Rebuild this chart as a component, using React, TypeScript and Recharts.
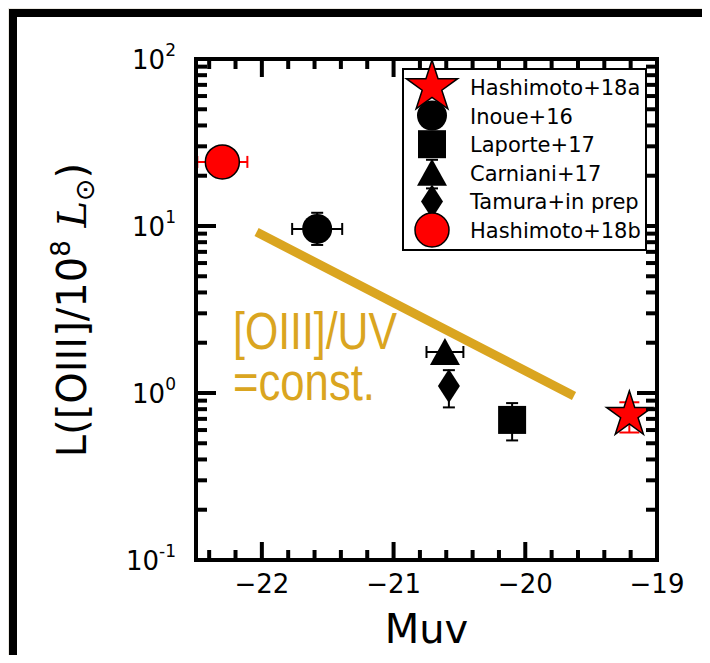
import React from "react";
import { ErrorBar, Scatter, ScatterChart, XAxis, YAxis } from "recharts";

const W = 710;
const H = 663;
const PL = 196;
const PR = 657;
const PT = 59;
const PB = 560;
const GOLD = "#DAA520";
const RED = "#ff0000";
const FONT = "'DejaVu Sans', sans-serif";

// axes
const xMajor = [-22, -21, -20, -19];
const xMinor = [
  -22.4, -22.2, -21.8, -21.6, -21.4, -21.2, -20.8, -20.6, -20.4, -20.2, -19.8,
  -19.6, -19.4, -19.2
];
const yMajor = [0.1, 1, 10, 100];
const yExp = ["-1", "0", "1", "2"];
const yMinor = [
  0.2, 0.3, 0.4, 0.5, 0.6, 0.7, 0.8, 0.9, 2, 3, 4, 5, 6, 7, 8, 9, 20, 30, 40,
  50, 60, 70, 80, 90
];

// measurements (Muv, L[OIII] / 1e8 Lsun)
const hash18aMuv = [-19.21];
const hash18aL = [0.74];
const hash18aLErr = [[0.16, 0.14]];

const inoueMuv = [-21.58];
const inoueL = [9.6];
const inoueMuvErr = [0.19];
const inoueLErr = [[1.9, 2.4]];

const laporteMuv = [-20.1];
const laporteL = [0.69];
const laporteLErr = [[0.17, 0.18]];

const carnianiMuv = [-20.61];
const carnianiL = [1.76];
const carnianiMuvErr = [0.14];

const tamuraMuv = [-20.58];
const tamuraL = [1.1];
const tamuraLErr = [[0.28, 0.27]];

const hash18bMuv = [-22.3];
const hash18bL = [24.2];
const hash18bMuvErr = [0.19];

// [OIII]/UV = const. line
const constMuv = [-22.04, -19.63];
const constL = [9.2, 0.96];

const legendLabels = [
  "Hashimoto+18a",
  "Inoue+16",
  "Laporte+17",
  "Carniani+17",
  "Tamura+in prep",
  "Hashimoto+18b"
];

function starPath(cx: number, cy: number, R: number) {
  const r = R * 0.382;
  let d = "";
  for (let i = 0; i < 10; i++) {
    const a = -Math.PI / 2 + (i * Math.PI) / 5;
    const rr = i % 2 === 0 ? R : r;
    d += (i === 0 ? "M" : "L") + (cx + rr * Math.cos(a)) + "," + (cy + rr * Math.sin(a));
  }
  return d + "Z";
}

type Kind = "star" | "circle" | "square" | "triangle" | "diamond" | "redcircle";

function Marker({ kind, cx, cy, big }: { kind: Kind; cx: number; cy: number; big?: boolean }) {
  if (kind === "star")
    return <path d={starPath(cx, cy, big ? 27 : 24)} fill={RED} stroke="#000" strokeWidth={1.5} />;
  if (kind === "circle") return <circle cx={cx} cy={cy} r={15} fill="#000" />;
  if (kind === "redcircle")
    return <circle cx={cx} cy={cy} r={17} fill={RED} stroke="#000" strokeWidth={1.5} />;
  if (kind === "square") return <rect x={cx - 14} y={cy - 14} width={28} height={28} fill="#000" />;
  if (kind === "triangle")
    return <path d={`M${cx},${cy - 14} L${cx + 15},${cy + 13} L${cx - 15},${cy + 13} Z`} fill="#000" />;
  return (
    <path d={`M${cx},${cy - 17} L${cx + 11},${cy} L${cx},${cy + 17} L${cx - 11},${cy} Z`} fill="#000" />
  );
}

const shapeOf = (kind: Kind) => (p: any) =>
  p.cx == null ? <g /> : <Marker kind={kind} cx={p.cx} cy={p.cy} />;

function XTick(props: any) {
  const { x, payload, side } = props;
  const v = payload.value;
  const major = xMajor.includes(v);
  const len = major ? 18 : 10;
  if (side === "top")
    return <line x1={x} x2={x} y1={PT} y2={PT + len} stroke="#000" strokeWidth={4} />;
  return (
    <g>
      <line x1={x} x2={x} y1={PB} y2={PB - len} stroke="#000" strokeWidth={4} />
      {major && (
        <text x={x} y={PB + 33} textAnchor="middle" fontSize={26} fontFamily={FONT} fill="#000">
          {"\u2212" + Math.abs(v)}
        </text>
      )}
    </g>
  );
}

function YTick(props: any) {
  const { y, payload, side } = props;
  const v = payload.value;
  const idx = yMajor.indexOf(v);
  const len = idx >= 0 ? 20 : 11;
  if (side === "right")
    return <line x1={PR} x2={PR - len} y1={y} y2={y} stroke="#000" strokeWidth={4} />;
  return (
    <g>
      <line x1={PL} x2={PL + len} y1={y} y2={y} stroke="#000" strokeWidth={4} />
      {idx >= 0 && (
        <text x={176} y={y + 10} textAnchor="end" fontSize={26} fontFamily={FONT} fill="#000">
          10
          <tspan dy={-13} fontSize={17}>
            {yExp[idx]}
          </tspan>
        </text>
      )}
    </g>
  );
}

function XTitle(props: any) {
  const vb = props.viewBox || {};
  const cx = (vb.x ?? PL) + (vb.width ?? PR - PL) / 2;
  return (
    <text x={cx} y={643} textAnchor="middle" fontSize={40} fontFamily={FONT} fill="#000">
      Muv
    </text>
  );
}

function YTitle() {
  return (
    <text
      x={86}
      y={310}
      transform="rotate(-90 86 310)"
      textAnchor="middle"
      fontSize={40}
      fontFamily={FONT}
      fill="#000"
    >
      L([OIII]/10
      <tspan dy={-16} fontSize={26}>
        8
      </tspan>
      <tspan dy={16}> </tspan>
      <tspan fontFamily="'DejaVu Serif', serif" fontStyle="italic">
        L
      </tspan>
      <tspan dy={8} fontSize={27}>
        {"\u2299"}
      </tspan>
      <tspan dy={-8}>)</tspan>
    </text>
  );
}

const pts = (muv: number[], l: number[], muvErr?: number[], lErr?: number[][]) =>
  muv.map((x, i) => ({ x, y: l[i], xe: muvErr ? muvErr[i] : 0, ye: lErr ? lErr[i] : [0, 0] }));

export default function App() {
  const axisLine = { stroke: "#000", strokeWidth: 4, strokeLinecap: "square" as const };
  const legendRows: Kind[] = ["star", "circle", "square", "triangle", "diamond", "redcircle"];
  const goldFont = "'Liberation Sans', Arial, sans-serif";

  return (
    <div style={{ position: "relative", width: W, height: H, margin: -8, background: "#ebe8e1", overflow: "hidden" }}>
      <div
        style={{
          position: "absolute",
          left: 9,
          top: 9,
          width: 700,
          height: 654,
          boxSizing: "border-box",
          background: "#fff",
          borderTop: "8px solid #000",
          borderLeft: "8px solid #000",
          borderBottom: "3px solid #000",
          borderRight: "2px solid #8a8a8a"
        }}
      />
      <div style={{ position: "absolute", left: 0, top: 0 }}>
        <ScatterChart
          width={W}
          height={H}
          margin={{ top: PT - 1, right: W - PR - 1, bottom: H - PB - 1, left: PL - 1 }}
        >
          <XAxis
            xAxisId="bottom"
            dataKey="x"
            type="number"
            domain={[-22.5, -19]}
            allowDataOverflow
            ticks={[...xMajor, ...xMinor]}
            interval={0}
            height={1}
            tickLine={false}
            axisLine={axisLine}
            tick={<XTick side="bottom" />}
            label={<XTitle />}
          />
          <XAxis
            xAxisId="top"
            orientation="top"
            dataKey="x"
            type="number"
            domain={[-22.5, -19]}
            allowDataOverflow
            ticks={[...xMajor, ...xMinor]}
            interval={0}
            height={1}
            tickLine={false}
            axisLine={axisLine}
            tick={<XTick side="top" />}
          />
          <YAxis
            yAxisId="left"
            dataKey="y"
            type="number"
            scale="log"
            domain={[0.1, 100]}
            allowDataOverflow
            ticks={[...yMajor, ...yMinor]}
            interval={0}
            width={1}
            tickLine={false}
            axisLine={axisLine}
            tick={<YTick side="left" />}
            label={<YTitle />}
          />
          <YAxis
            yAxisId="right"
            orientation="right"
            dataKey="y"
            type="number"
            scale="log"
            domain={[0.1, 100]}
            allowDataOverflow
            ticks={[...yMajor, ...yMinor]}
            interval={0}
            width={1}
            tickLine={false}
            axisLine={axisLine}
            tick={<YTick side="right" />}
          />

          <Scatter
            xAxisId="top"
            yAxisId="right"
            data={pts(constMuv, constL)}
            line={{ stroke: GOLD, strokeWidth: 9 }}
            shape={() => <g />}
            isAnimationActive={false}
          />

          <Scatter xAxisId="bottom" yAxisId="left" data={pts(hash18bMuv, hash18bL, hash18bMuvErr)} shape={shapeOf("redcircle")} isAnimationActive={false}>
            <ErrorBar dataKey="xe" direction="x" width={6} stroke={RED} strokeWidth={2} isAnimationActive={false} />
          </Scatter>
          <Scatter xAxisId="bottom" yAxisId="left" data={pts(inoueMuv, inoueL, inoueMuvErr, inoueLErr)} shape={shapeOf("circle")} isAnimationActive={false}>
            <ErrorBar dataKey="xe" direction="x" width={6} stroke="#000" strokeWidth={2} isAnimationActive={false} />
            <ErrorBar dataKey="ye" direction="y" width={6} stroke="#000" strokeWidth={2} isAnimationActive={false} />
          </Scatter>
          <Scatter xAxisId="bottom" yAxisId="left" data={pts(carnianiMuv, carnianiL, carnianiMuvErr)} shape={shapeOf("triangle")} isAnimationActive={false}>
            <ErrorBar dataKey="xe" direction="x" width={6} stroke="#000" strokeWidth={2} isAnimationActive={false} />
          </Scatter>
          <Scatter xAxisId="bottom" yAxisId="left" data={pts(tamuraMuv, tamuraL, undefined, tamuraLErr)} shape={shapeOf("diamond")} isAnimationActive={false}>
            <ErrorBar dataKey="ye" direction="y" width={6} stroke="#000" strokeWidth={2} isAnimationActive={false} />
          </Scatter>
          <Scatter xAxisId="bottom" yAxisId="left" data={pts(laporteMuv, laporteL, undefined, laporteLErr)} shape={shapeOf("square")} isAnimationActive={false}>
            <ErrorBar dataKey="ye" direction="y" width={6} stroke="#000" strokeWidth={2} isAnimationActive={false} />
          </Scatter>
          <Scatter xAxisId="bottom" yAxisId="left" data={pts(hash18aMuv, hash18aL, undefined, hash18aLErr)} shape={shapeOf("star")} isAnimationActive={false}>
            <ErrorBar dataKey="ye" direction="y" width={10} stroke={RED} strokeWidth={2} isAnimationActive={false} />
          </Scatter>
        </ScatterChart>
      </div>

      <svg style={{ position: "absolute", left: 0, top: 0, pointerEvents: "none" }} width={W} height={H}>
        <text x={233} y={349} fontSize={51} fontFamily={goldFont} fill={GOLD} textLength={164} lengthAdjust="spacingAndGlyphs">
          [OIII]/UV
        </text>
        <text x={233} y={400} fontSize={51} fontFamily={goldFont} fill={GOLD} textLength={142} lengthAdjust="spacingAndGlyphs">
          =const.
        </text>
      </svg>

      <div
        style={{
          position: "absolute",
          left: 402,
          top: 68,
          width: 245,
          height: 183,
          boxSizing: "border-box",
          border: "2px solid #000",
          background: "#fff"
        }}
      >
        <svg width={241} height={179} style={{ position: "absolute", left: 0, top: 0, overflow: "visible" }}>
          {legendLabels.map((name, i) => {
            const cy = 17 + i * 28.6;
            const kind = legendRows[i];
            return (
              <g key={name}>
                {kind === "triangle" && (
                  <g stroke="#000" strokeWidth={2}>
                    <line x1={28} x2={28} y1={cy} y2={cy - 13} />
                    <line x1={22} x2={34} y1={cy - 13} y2={cy - 13} />
                  </g>
                )}
                {kind === "diamond" && (
                  <g stroke="#000" strokeWidth={2}>
                    <line x1={28} x2={28} y1={cy - 13} y2={cy + 13} />
                    <line x1={22} x2={34} y1={cy - 13} y2={cy - 13} />
                    <line x1={22} x2={34} y1={cy + 13} y2={cy + 13} />
                  </g>
                )}
                <Marker kind={kind} cx={28} cy={cy} big />
                <text x={66} y={cy + 8} fontSize={21} fontFamily={FONT} fill="#000">
                  {name}
                </text>
              </g>
            );
          })}
        </svg>
      </div>
    </div>
  );
}
